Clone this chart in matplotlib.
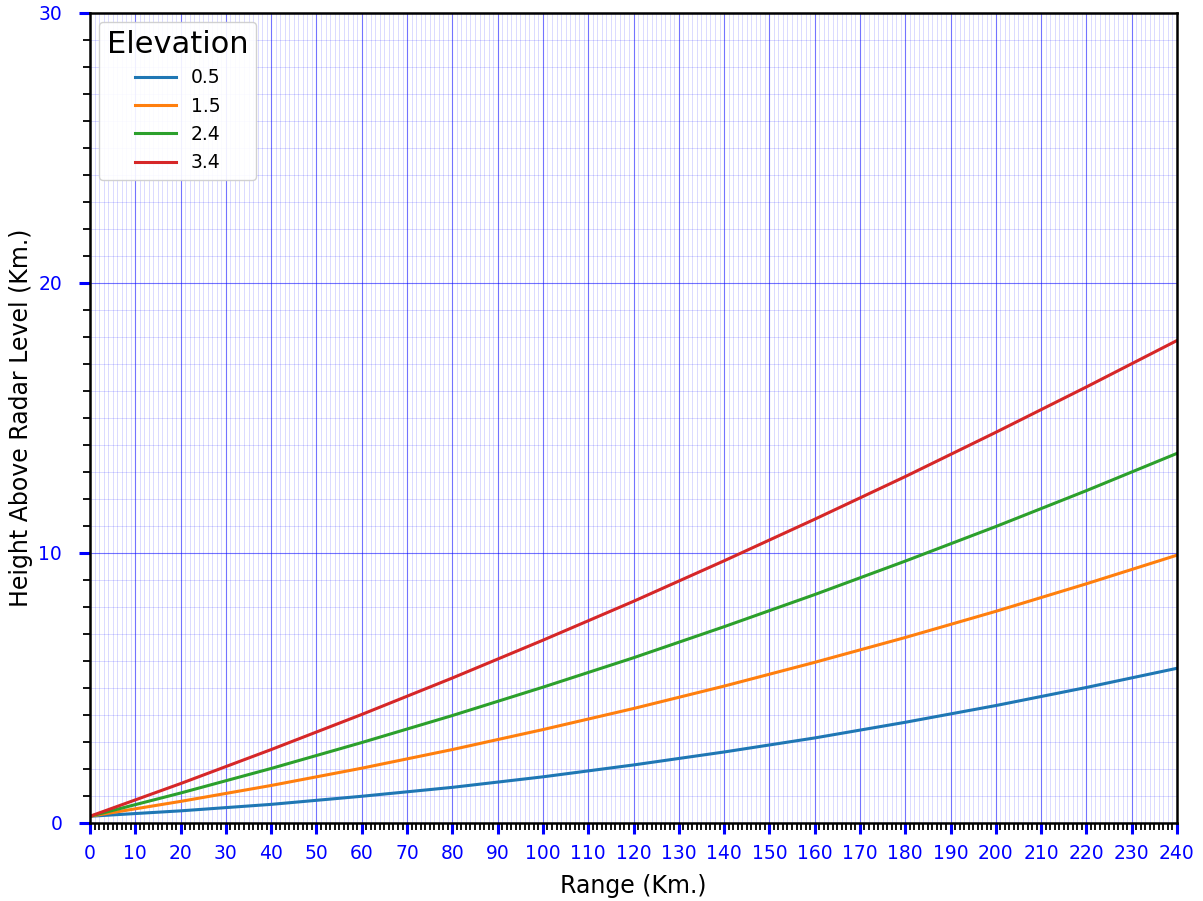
import matplotlib
matplotlib.use("Agg")
import matplotlib.pyplot as plt
from matplotlib.ticker import MultipleLocator

# Data (range in km, height in km)
ranges = [0, 20, 40, 60, 80, 100, 120, 140, 160, 180, 200, 220, 240]
elevations = ["0.5", "1.5", "2.4", "3.4"]
h_05 = [0.25, 0.45, 0.69, 0.99, 1.32, 1.71, 2.15, 2.63, 3.15, 3.73, 4.35, 5.02, 5.73]
h_15 = [0.25, 0.80, 1.39, 2.03, 2.72, 3.46, 4.24, 5.07, 5.95, 6.87, 7.84, 8.86, 9.92]
h_24 = [0.25, 1.11, 2.02, 2.98, 3.98, 5.03, 6.12, 7.27, 8.46, 9.70, 10.98, 12.31, 13.69]
h_34 = [0.25, 1.46, 2.72, 4.02, 5.37, 6.77, 8.21, 9.71, 11.25, 12.83, 14.47, 16.15, 17.87]
heights = [h_05, h_15, h_24, h_34]

fig = plt.figure(figsize=(12.03, 9.01), dpi=100)
ax = fig.add_axes([90/1203, 78/901, 1087/1203, 810/901])

for lab, h in zip(elevations, heights):
    ax.plot(ranges, h, lw=2.2, label=lab)

ax.set_xlim(0, 240)
ax.set_ylim(0, 30)
ax.xaxis.set_major_locator(MultipleLocator(10))
ax.xaxis.set_minor_locator(MultipleLocator(1))
ax.yaxis.set_major_locator(MultipleLocator(10))
ax.yaxis.set_minor_locator(MultipleLocator(1))

ax.grid(which="major", color="blue", lw=0.8, alpha=0.55)
ax.grid(which="minor", color="blue", lw=0.6, alpha=0.17)
ax.set_axisbelow(True)

ax.tick_params(which="major", direction="out", length=8, width=2.2,
               color="blue", labelcolor="blue", labelsize=13.5, pad=7)
ax.tick_params(which="minor", direction="out", length=5, width=1.3,
               color="black")
ax.tick_params(axis="y", which="major", pad=12)
for s in ax.spines.values():
    s.set_linewidth(1.8)
    s.set_color("black")

ax.set_xlabel("Range (Km.)", fontsize=17, labelpad=8)
ax.set_ylabel("Height Above Radar Level (Km.)", fontsize=17, labelpad=4)

leg = ax.legend(title="Elevation", loc="upper left", fontsize=13.5,
                title_fontsize=22, framealpha=0.9, handlelength=2.2)

fig.savefig("out.png", dpi=100)
